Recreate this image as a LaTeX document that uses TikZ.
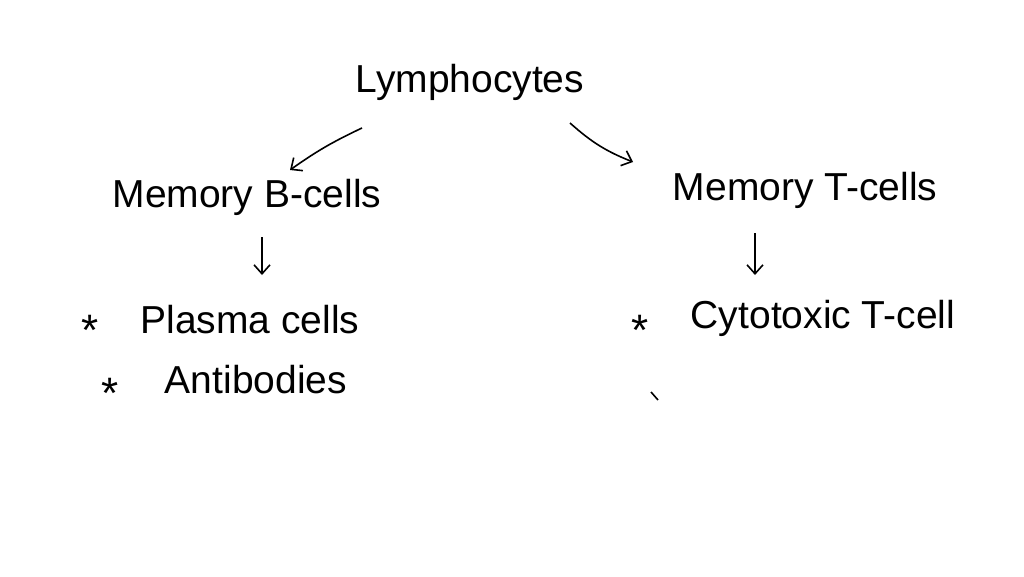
\documentclass[tikz,border=0pt]{standalone}
\usepackage{fontspec}
\setmainfont{Liberation Sans}
\usetikzlibrary{arrows.meta}
\begin{document}
\begin{tikzpicture}[x=1pt,y=-1pt,
  lbl/.style={font=\fontsize{39}{44}\selectfont, inner sep=0pt},
  star/.style={font=\fontsize{44}{48}\selectfont, inner sep=0pt},
  arr/.style={->, line width=1.6pt, >={Straight Barb[length=9pt,width=16pt]}}]
\useasboundingbox (0,0) rectangle (1024,576);
\node[lbl] (L) at (470,82) {Lymphocytes};
\node[lbl] (B) at (247,197) {Memory B-cells};
\node[lbl] (T) at (805,190) {Memory T-cells};
\node[star] (s1) at (90,330) {*};
\node[lbl] (P) at (250,320) {Plasma cells};
\node[star] (s2) at (110,393) {*};
\node[lbl] (A) at (256,380) {Antibodies};
\node[star] (s3) at (640,330) {*};
\node[lbl] (C) at (823,318) {Cytotoxic T-cell};
\coordinate (a1) at (362,128); \coordinate (b1) at (290,170);
\coordinate (a2) at (570,123); \coordinate (b2) at (633,162);
\coordinate (a3) at (262,237); \coordinate (b3) at (262,275);
\coordinate (a4) at (755,233); \coordinate (b4) at (755,275);
\draw[arr] (a1) to[bend right=5] (b1);
\draw[arr] (a2) to[bend right=10] (b2);
\draw[arr] (a3) -- (b3);
\draw[arr] (a4) -- (b4);
\coordinate (m1) at (651,392); \coordinate (m2) at (658,400);
\draw[line width=1.6pt] (m1) -- (m2);
\end{tikzpicture}
\end{document}
